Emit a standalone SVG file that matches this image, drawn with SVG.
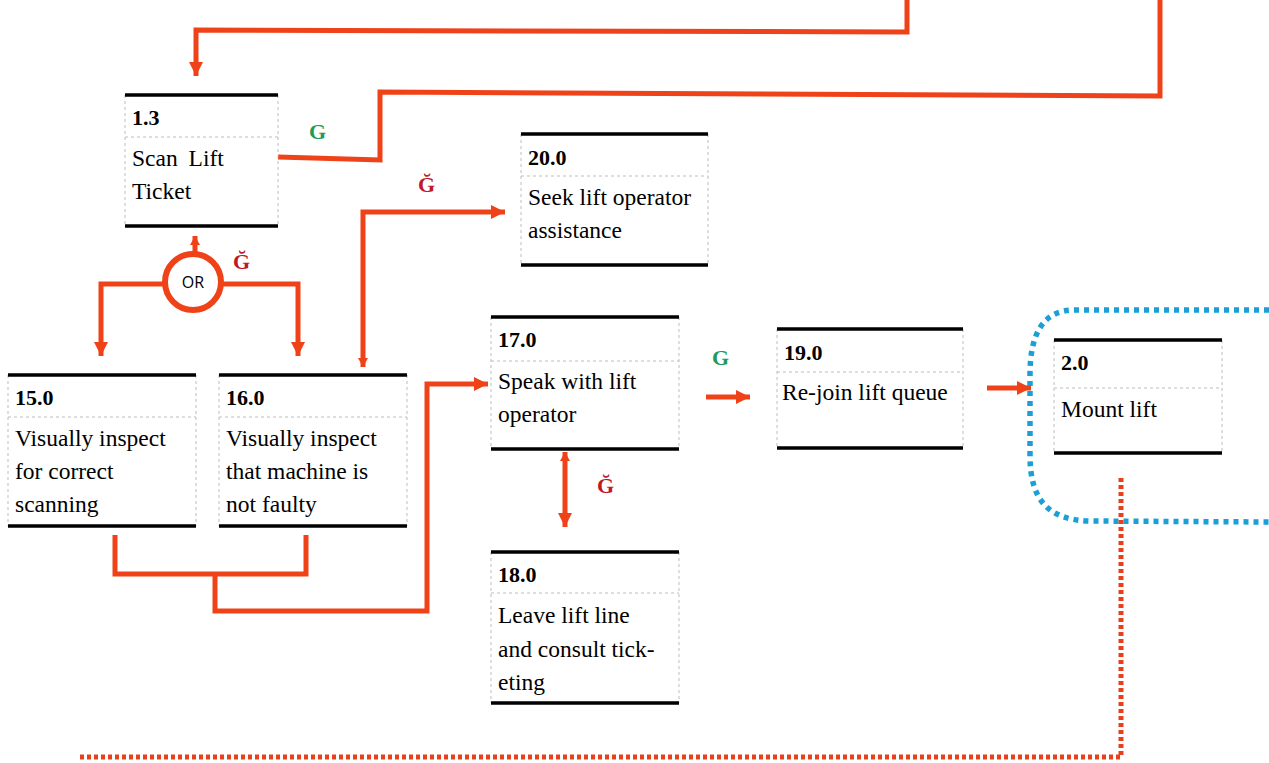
<svg xmlns="http://www.w3.org/2000/svg" width="1269" height="763" viewBox="0 0 1269 763">
<style>
.bg{fill:#ffffff}
.edge{fill:none;stroke:#ef4219;stroke-width:5;stroke-linejoin:miter}
.thick{stroke:#000;stroke-width:3.5}
.side{stroke:#bdbdbd;stroke-width:1;stroke-dasharray:3 3;fill:none}
.hd{font-family:"Liberation Serif","Times New Roman",serif;font-weight:bold;font-size:22px;fill:#000}
.tx{font-family:"Liberation Serif","Times New Roman",serif;font-size:23.5px;fill:#000}
.g{font-family:"Liberation Serif","Times New Roman",serif;font-weight:bold;font-size:22px;fill:#1e9a5a}
.ng{font-family:"Liberation Serif","Times New Roman",serif;font-weight:bold;font-size:22px;fill:#c0182a}
.or{font-family:"Open Sans","Liberation Sans",sans-serif;font-size:16px;fill:#000}
.bluedot{fill:none;stroke:#1aa0d6;stroke-width:5.5;stroke-dasharray:5 5}
.reddot{fill:none;stroke:#e8401c;stroke-width:5;stroke-dasharray:4 3}
</style>
<defs>
<marker id="ah" markerWidth="16" markerHeight="16" refX="14" refY="7" orient="auto-start-reverse" markerUnits="userSpaceOnUse">
<path d="M0,0 L14,7 L0,14 Z" fill="#ef4219"/>
</marker>
<marker id="sm" markerWidth="12" markerHeight="12" refX="9" refY="5" orient="auto-start-reverse" markerUnits="userSpaceOnUse">
<path d="M0,0 L9,5 L0,10 Z" fill="#ef4219"/>
</marker>
</defs>
<rect class="bg" x="0" y="0" width="1269" height="763"/>

<g id="connectors">
<path class="edge" d="M907,0 L907,32 L196,30 L196,76" marker-end="url(#ah)"/>
<path class="edge" d="M278,157 L380,160 L380,92 L1160,96 L1160,0"/>
<path class="edge" d="M195,252 L195,236" marker-end="url(#sm)"/>
<path class="edge" d="M165,284 L101,284 L101,356" marker-end="url(#ah)"/>
<path class="edge" d="M222,284 L298,284 L298,356" marker-end="url(#ah)"/>
<path class="edge" d="M363,367 L363,212 L505,212" marker-start="url(#sm)" marker-end="url(#ah)"/>
<path class="edge" d="M115,535 L115,574 L306,574 L306,535"/>
<path class="edge" d="M215,574 L215,611 L427,611 L427,384 L488,384" marker-end="url(#ah)"/>
<path class="edge" d="M706,397 L750,397" marker-end="url(#ah)"/>
<path class="edge" d="M565,452 L565,527" marker-start="url(#sm)" marker-end="url(#ah)"/>
<path class="edge" d="M987,388 L1031,388" marker-end="url(#ah)"/>
<path class="bluedot" d="M1269,310 L1075,310 C1042,310 1030,335 1030,375 L1030,455 C1030,500 1048,520 1090,521 L1269,522"/>
<path class="reddot" d="M1121,478 L1121,757 L80,757"/>
</g>

<g id="labels">
<text class="g" x="309" y="139">G</text>
<text class="ng" x="418" y="192">Ğ</text>
<text class="ng" x="233" y="269">Ğ</text>
<text class="g" x="712" y="365">G</text>
<text class="ng" x="597" y="493">Ğ</text>
</g>

<g id="or">
<circle cx="193" cy="282" r="28" fill="#fff" stroke="#ef4219" stroke-width="6"/>
<text class="or" x="193" y="288" text-anchor="middle">OR</text>
</g>

<g id="n1_3">
<path class="side" d="M125,95 V226 M278,95 V226 M125,137 H278"/>
<path class="thick" d="M125,95 H278 M125,226 H278"/>
<text class="hd" x="132" y="125">1.3</text>
<text class="tx" x="132" y="166" word-spacing="5">Scan Lift</text>
<text class="tx" x="132" y="199">Ticket</text>
</g>

<g id="n20">
<path class="side" d="M521,134 V265 M708,134 V265 M521,176 H708"/>
<path class="thick" d="M521,134 H708 M521,265 H708"/>
<text class="hd" x="528" y="165">20.0</text>
<text class="tx" x="528" y="205">Seek lift operator</text>
<text class="tx" x="528" y="238">assistance</text>
</g>

<g id="n15">
<path class="side" d="M8,375 V526 M196,375 V526 M8,417 H196"/>
<path class="thick" d="M8,375 H196 M8,526 H196"/>
<text class="hd" x="15" y="405">15.0</text>
<text class="tx" x="15" y="446">Visually inspect</text>
<text class="tx" x="15" y="479">for correct</text>
<text class="tx" x="15" y="512">scanning</text>
</g>

<g id="n16">
<path class="side" d="M219,375 V526 M407,375 V526 M219,417 H407"/>
<path class="thick" d="M219,375 H407 M219,526 H407"/>
<text class="hd" x="226" y="405">16.0</text>
<text class="tx" x="226" y="446">Visually inspect</text>
<text class="tx" x="226" y="479">that machine is</text>
<text class="tx" x="226" y="512">not faulty</text>
</g>

<g id="n17">
<path class="side" d="M491,317 V449 M679,317 V449 M491,361 H679"/>
<path class="thick" d="M491,317 H679 M491,449 H679"/>
<text class="hd" x="498" y="347">17.0</text>
<text class="tx" x="498" y="389">Speak with lift</text>
<text class="tx" x="498" y="422">operator</text>
</g>

<g id="n18">
<path class="side" d="M491,552 V703 M679,552 V703 M491,593 H679"/>
<path class="thick" d="M491,552 H679 M491,703 H679"/>
<text class="hd" x="498" y="582">18.0</text>
<text class="tx" x="498" y="623">Leave lift line</text>
<text class="tx" x="498" y="657">and consult tick-</text>
<text class="tx" x="498" y="690">eting</text>
</g>

<g id="n19">
<path class="side" d="M777,329 V448 M963,329 V448 M777,372 H963"/>
<path class="thick" d="M777,329 H963 M777,448 H963"/>
<text class="hd" x="784" y="360">19.0</text>
<text class="tx" x="782" y="400">Re-join lift queue</text>
</g>

<g id="n2">
<path class="side" d="M1054,340 V453 M1222,340 V453 M1054,388 H1222"/>
<path class="thick" d="M1054,340 H1222 M1054,453 H1222"/>
<text class="hd" x="1061" y="370">2.0</text>
<text class="tx" x="1061" y="417">Mount lift</text>
</g>
</svg>
